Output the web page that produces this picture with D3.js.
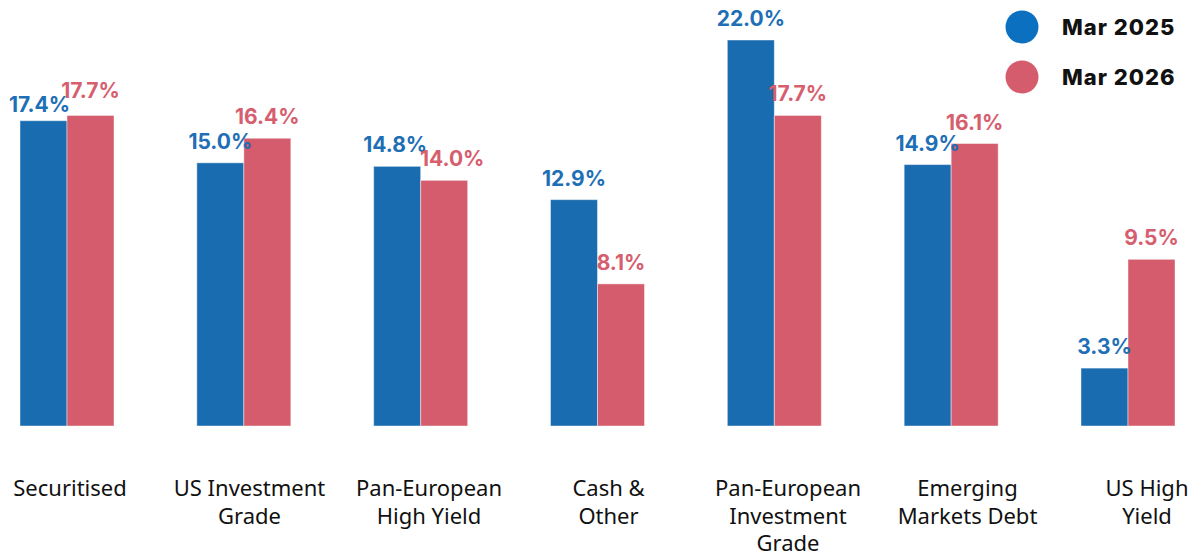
<!DOCTYPE html>
<html><head><meta charset="utf-8">
<script src="https://cdn.jsdelivr.net/npm/d3@7"></script>
<style>
html,body{margin:0;padding:0;background:#fff;}
svg{display:block;}
</style></head>
<body>
<svg id="chart" width="1195" height="557"></svg>
<script>
const categories = ["Securitised","US Investment Grade","Pan-European High Yield","Cash & Other","Pan-European Investment Grade","Emerging Markets Debt","US High Yield"];
const tickLabels = [["Securitised"],["US Investment","Grade"],["Pan-European","High Yield"],["Cash &","Other"],["Pan-European","Investment","Grade"],["Emerging","Markets Debt"],["US High","Yield"]];
const seriesNames = ["Mar 2025","Mar 2026"];
const mar2025 = [17.4,15.0,14.8,12.9,22.0,14.9,3.3];
const mar2026 = [17.7,16.4,14.0,8.1,17.7,16.1,9.5];
const seriesValues = [mar2025, mar2026];

const barColors = ["#1a6cb0","#d55c6c"];
const labelColors = ["#1e6fb5","#d65e6e"];
const legendColors = ["#0b70c0","#d55c6c"];

const svg = d3.select("#chart");
const x0 = d3.scalePoint().domain(categories).range([67,1128]);
const xLabel = d3.scalePoint().domain(categories).range([70,1147]);
const x1 = d3.scaleBand().domain(seriesNames).range([-47,47]);
const y = d3.scaleLinear().domain([0,22]).range([426,40]);

const data = [];
categories.forEach((c,i)=>seriesNames.forEach((s,j)=>data.push({c,s,j,i,v:seriesValues[j][i]})));

svg.append("g").selectAll("rect").data(data).join("rect")
  .attr("x",d=>x0(d.c)+x1(d.s))
  .attr("y",d=>y(d.v))
  .attr("width",x1.bandwidth())
  .attr("height",d=>y(0)-y(d.v))
  .attr("fill",d=>barColors[d.j])
  .attr("stroke","rgba(255,255,255,0.45)")
  .attr("stroke-width",1);

// value labels with simple collision avoidance between the pair in a group
function labelPos(d){
  let lx = x0(d.c)+x1(d.s)+x1.bandwidth()/2;
  let ly = y(d.v)-14;
  const other = seriesValues[1-d.j][d.i];
  const oy = y(other)-14;
  const gap = Math.abs(ly-oy);
  if (gap < 10) {
    if (d.v <= other) { ly += 5; lx -= 4; } else { ly -= 3; }
  } else if (gap < 18) {
    lx += d.j ? 8 : -2;
  }
  return [lx, ly];
}
svg.append("g").selectAll("text").data(data).join("text")
  .attr("x",d=>labelPos(d)[0])
  .attr("y",d=>labelPos(d)[1])
  .attr("text-anchor","middle")
  .attr("font-family","Inter, sans-serif")
  .attr("font-weight",700)
  .attr("font-size",21)
  .attr("fill",d=>labelColors[d.j])
  .text(d=>d.v.toFixed(1)+"%");

const xl = svg.append("g").selectAll("text").data(categories).join("text")
  .attr("x",d=>xLabel(d))
  .attr("y",496)
  .attr("text-anchor","middle")
  .attr("font-family","'Noto Sans', sans-serif")
  .attr("font-size",22)
  .attr("fill","#111");
xl.each(function(d,i){
  const t=d3.select(this);
  tickLabels[i].forEach((ln,k)=>t.append("tspan").attr("x",xLabel(d)).attr("dy",k?27.5:0).text(ln));
});

const lg = svg.append("g").selectAll("g").data(seriesNames).join("g")
  .attr("transform",(d,i)=>`translate(1022,${27+i*50})`);
lg.append("circle").attr("r",16.5).attr("fill",(d,i)=>legendColors[i]);
lg.append("text").attr("x",40).attr("y",8)
  .attr("font-family","Inter, sans-serif").attr("font-weight",800)
  .attr("font-size",22).attr("letter-spacing",1).attr("fill","#111").text(d=>d);
</script>
</body></html>
